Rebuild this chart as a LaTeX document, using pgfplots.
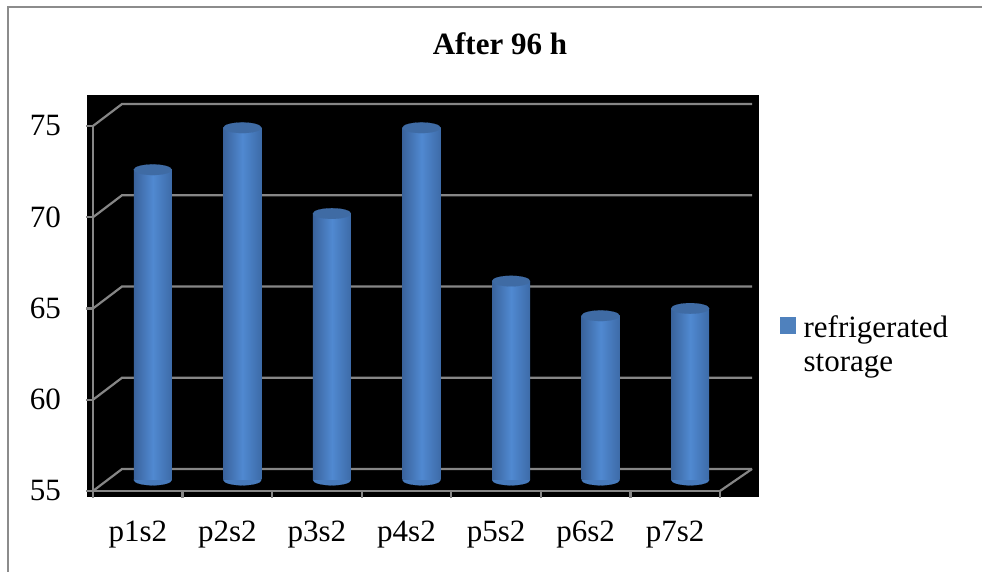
\documentclass[border=0pt]{standalone}
\usepackage{fontspec}
\setmainfont{Liberation Serif}
\usepackage{pgfplots}
\pgfplotsset{compat=1.18}
\definecolor{gridgray}{HTML}{868686}
\definecolor{framegray}{HTML}{8C8C8C}
\definecolor{barleft}{HTML}{3A639C}
\definecolor{barmid}{HTML}{5089D1}
\definecolor{barright}{HTML}{3D6BA8}
\definecolor{topblue}{HTML}{3F6BA4}
\definecolor{bodymid}{HTML}{477ABB}
\definecolor{legblue}{HTML}{4F81BD}
\newcommand{\bigfont}{\fontsize{31bp}{34bp}\selectfont}

\begin{document}
\begin{tikzpicture}
\useasboundingbox (0,0) rectangle (982bp,572bp);
\fill[white] (0,0) rectangle (982bp,572bp);
\draw[framegray, line width=2bp] (8bp,0bp) -- (8bp,565bp) -- (982bp,565bp);
\fill[black] (87bp,75bp) rectangle (759bp,477bp);

\begin{axis}[
  at={(93bp,81bp)}, anchor=south west,
  width=627bp, height=365bp, scale only axis,
  xmin=-0.5, xmax=6.5, ymin=55, ymax=75,
  clip=false,
  axis x line*=bottom, axis y line*=left,
  axis line style={gridgray, line width=2.2bp},
  xtick={-0.5,0.5,1.5,2.5,3.5,4.5,5.5,6.5},
  x tick label as interval,
  xticklabels={p1s2,p2s2,p3s2,p4s2,p5s2,p6s2,p7s2},
  ytick={55,60,65,70,75},
  yticklabels={55,60,65,70,75},
  tick align=outside,
  major tick length=7bp,
  tick style={gridgray, line width=2.2bp},
  tick label style={font=\bigfont, inner sep=0pt},
  xticklabel style={anchor=base, yshift=-43bp},
  yticklabel style={anchor=east, xshift=-25bp},
  title={After 96 h},
  title style={at={(axis description cs:0.649,1.1808)}, anchor=base, inner sep=0pt, font=\bfseries\bigfont},
  legend cell align=left,
  legend style={at={(axis description cs:1.0957,0.4871)}, anchor=north west,
    draw=none, fill=none, inner sep=0pt, font=\bigfont,
    nodes={inner sep=0pt}},
]
\pgfplotsinvokeforeach{55,60,65,70,75}{
  \draw[gridgray, line width=2.2bp] (axis cs:-0.5,#1) -- ([shift={(29bp,22bp)}]axis cs:-0.5,#1) -- ([shift={(32bp,22bp)}]axis cs:6.5,#1);
}
\draw[gridgray, line width=2.2bp] (axis cs:6.5,55) -- ([shift={(32bp,22bp)}]axis cs:6.5,55);
\addplot[only marks, mark=*, mark size=19bp, mark options={yscale=0.28, fill=bodymid, draw=bodymid, line width=0.1bp}, xshift=15bp, yshift=11bp, forget plot]
  coordinates {(0,55) (1,55) (2,55) (3,55) (4,55) (5,55) (6,55)};
\addlegendimage{legend image code/.code={\fill[legblue] (0bp,-7bp) rectangle (15bp,9bp); \path (23bp,0bp);}}
\addlegendentry{\begin{tabular}[t]{@{}l@{}}refrigerated\\storage\end{tabular}}
\end{axis}

\begin{axis}[
  at={(108bp,92bp)}, anchor=south west,
  width=627bp, height=365bp, scale only axis,
  xmin=-0.5, xmax=6.5, ymin=55, ymax=75,
  hide axis,
  barbody/.style={ybar, bar width=38bp, draw=none, left color=barleft, right color=barright, middle color=barmid},
]
\addplot[barbody] coordinates {(0,72.0)};
\addplot[barbody] coordinates {(1,74.3)};
\addplot[barbody] coordinates {(2,69.6)};
\addplot[barbody] coordinates {(3,74.3)};
\addplot[barbody] coordinates {(4,65.9)};
\addplot[barbody] coordinates {(5,64.0)};
\addplot[barbody] coordinates {(6,64.4)};
\addplot[only marks, mark=*, mark size=19bp, mark options={yscale=0.28, fill=topblue, draw=topblue, line width=0.1bp}]
  coordinates {(0,72.0) (1,74.3) (2,69.6) (3,74.3) (4,65.9) (5,64.0) (6,64.4)};
\end{axis}
\end{tikzpicture}
\end{document}
